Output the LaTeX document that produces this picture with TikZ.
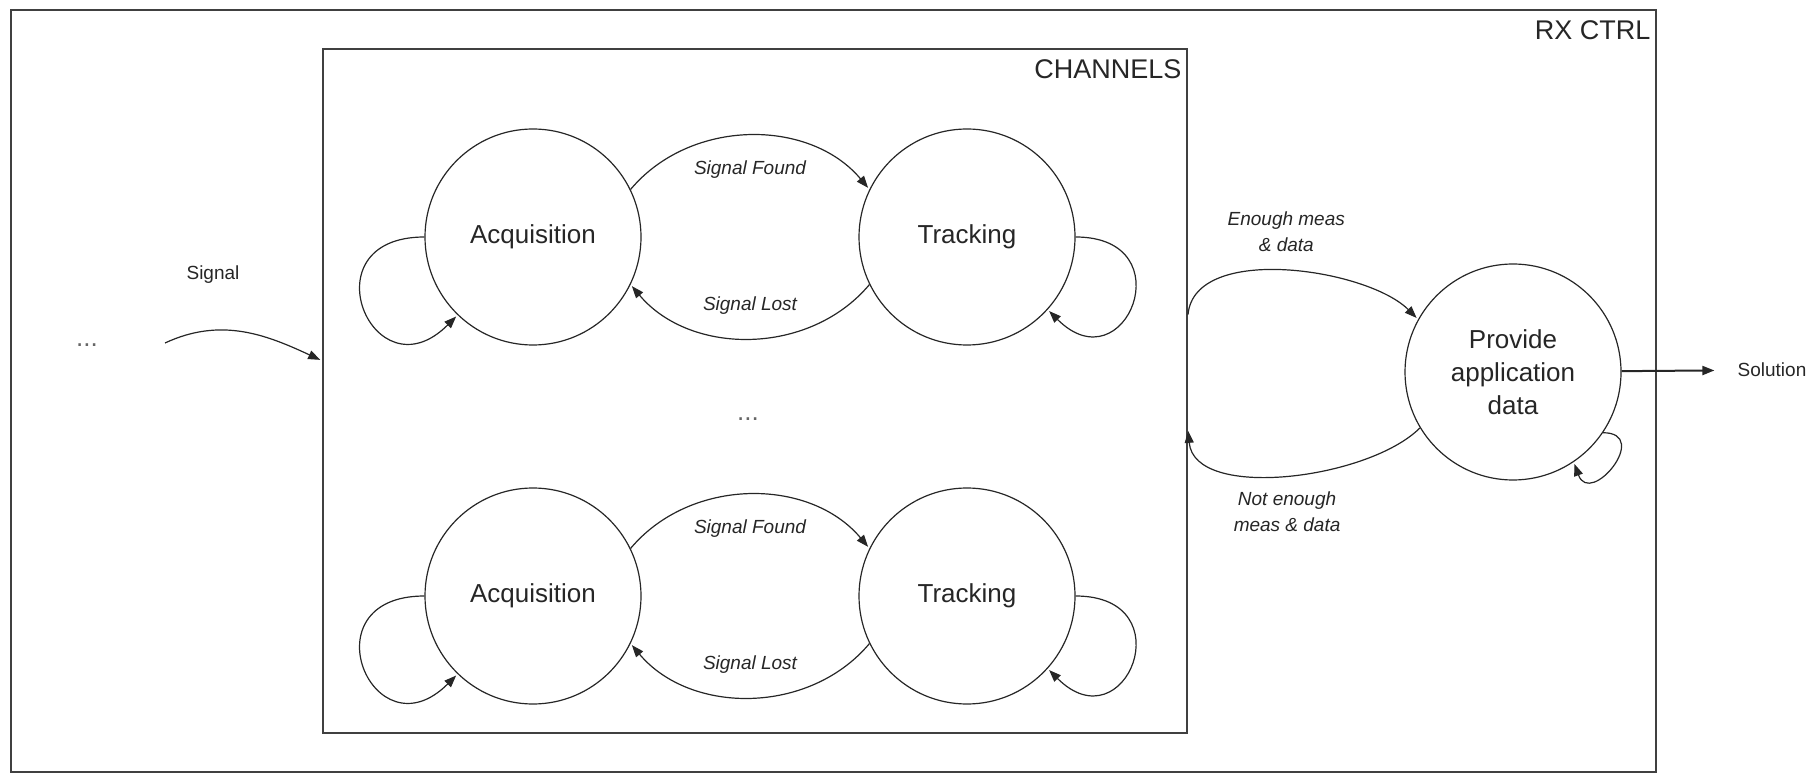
\documentclass[tikz,border=0pt]{standalone}
\usepackage{fontspec}
\setmainfont{Liberation Sans}
\usepackage{tikz}
\usetikzlibrary{automata, positioning, arrows.meta}

\tikzset{
  every state/.style={draw=black!85, line width=0.6pt, minimum size=108pt, inner sep=0pt,
    font=\fontsize{13}{16.5}\selectfont, align=center, text=black!85},
  frame/.style={draw=black!75, line width=1pt, inner sep=0pt},
  frametitle/.style={font=\fontsize{13.5}{16}\selectfont, inner xsep=3pt, inner ysep=5.5pt, text=black!85},
  cond/.style={font=\fontsize{9.5}{13}\selectfont\itshape, align=center, text=black!85},
  plain/.style={font=\fontsize{9.5}{12}\selectfont, text=black!85}
}

\begin{document}
\begin{tikzpicture}[x=0.5pt, y=0.5pt, shorten >=1pt, node distance=179.5pt and 217pt, on grid, auto,
    >={Triangle[length=6pt, width=4.5pt]}, line width=0.6pt, draw=black!85]
  \useasboundingbox (0,0) rectangle (1813,-774);

  % frames
  \node[frame, minimum width=822.5pt, minimum height=381pt] (rx) at (833.5,-391) {};
  \node[frame, minimum width=432pt, minimum height=342pt] (chan) at (755,-391) {};
  \node[frametitle, anchor=north east] (rxname) at (rx.north east) {RX CTRL};
  \node[frametitle, anchor=north east] (chname) at (chan.north east) {CHANNELS};

  % states
  \node[state] (acq1) at (533,-237) {Acquisition};
  \node[state] (trk1) [right=of acq1] {Tracking};
  \node[state] (acq2) [below=of acq1] {Acquisition};
  \node[state] (trk2) [below=of trk1] {Tracking};
  \node[state] (prov) [below right=67.5pt and 273pt of trk1] {Provide\\application\\data};

  \node[state, draw=none, minimum size=0pt, text=black!60] (dots) at (87,-345) {...};
  \node[state, draw=none, minimum size=0pt, text=black!60] (dotsmid) at (748,-419) {...};
  \node[plain] (sol) at (1772,-370) {Solution};
  \coordinate (sigstart) at (165,-343);

  \path[->]
    (sigstart) edge[out=25, in=155] node[plain, pos=0.3, above=20pt] {Signal} (chan.176)

    (acq1.180) edge[out=180, in=225, looseness=3.6] (acq1.226)
    (acq1.26) edge[bend left=50] node[cond, below=9pt] {Signal Found} (trk1.154)
    (trk1.206) edge[bend left=50] node[cond, above=8pt] {Signal Lost} (acq1.334)
    (trk1.0) edge[out=0, in=-45, looseness=3.6] (trk1.-42)

    (acq2.180) edge[out=180, in=225, looseness=3.6] (acq2.226)
    (acq2.26) edge[bend left=50] node[cond, below=9pt] {Signal Found} (trk2.154)
    (trk2.206) edge[bend left=50] node[cond, above=8pt] {Signal Lost} (acq2.334)
    (trk2.0) edge[out=0, in=-45, looseness=3.6] (trk2.-42)

    (chan.10) edge[out=85, in=135, looseness=0.8] node[cond, above=6pt] {Enough meas\\\& data} (prov.151)
    (prov.211) edge[out=-135, in=-85, looseness=0.8] node[cond, below=5pt] {Not enough\\meas \& data} (chan.-5)
    (prov.-34) edge[out=0, in=-70, looseness=3] (prov.-56)
    (prov) edge[line width=1pt, shorten >=8pt] (sol);
\end{tikzpicture}
\end{document}
